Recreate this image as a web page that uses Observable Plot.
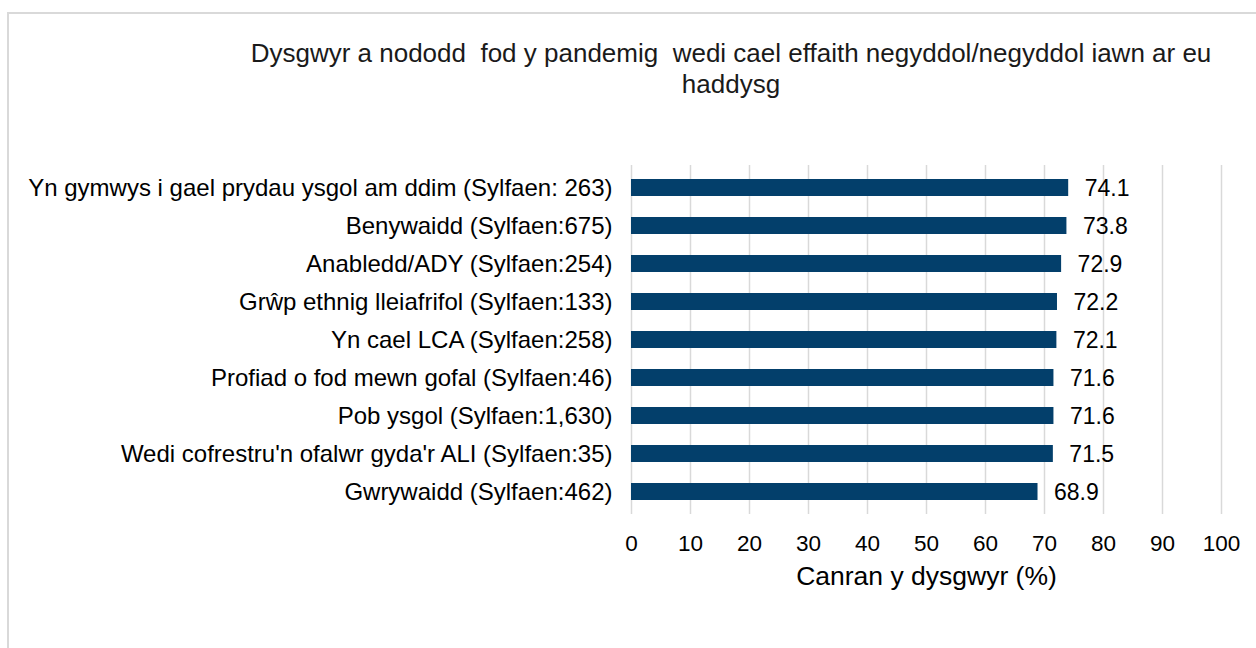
<!DOCTYPE html>
<html>
<head>
<meta charset="utf-8">
<script src="https://cdn.jsdelivr.net/npm/d3@7"></script>
<script src="https://cdn.jsdelivr.net/npm/@observablehq/plot@0.6"></script>
<style>
  html, body { margin: 0; padding: 0; background: #fff; }
  #wrap { position: relative; width: 1256px; height: 648px; overflow: hidden; font-family: "Liberation Sans", Arial, sans-serif; }
  #frame { position: absolute; left: 7px; top: 12px; width: 1300px; height: 700px; border: 2px solid #d9d9d9; box-sizing: border-box; }
  #title { position: absolute; left: 0; top: 38px; width: 1462px; text-align: center; font-size: 26px; line-height: 31px; color: #1a1a1a; white-space: pre; }
  #chart { position: absolute; left: 0; top: 0; }
</style>
</head>
<body>
<div id="wrap">
  <div id="frame"></div>
  <div id="chart"></div>
  <div id="title"></div>
</div>
<script>
const titleLines = ["Dysgwyr a nododd  fod y pandemig  wedi cael effaith negyddol/negyddol iawn ar eu", "haddysg"];
const categories = [
  "Yn gymwys i gael prydau ysgol am ddim (Sylfaen: 263)",
  "Benywaidd (Sylfaen:675)",
  "Anabledd/ADY (Sylfaen:254)",
  "Grŵp ethnig lleiafrifol (Sylfaen:133)",
  "Yn cael LCA (Sylfaen:258)",
  "Profiad o fod mewn gofal (Sylfaen:46)",
  "Pob ysgol (Sylfaen:1,630)",
  "Wedi cofrestru'n ofalwr gyda'r ALI (Sylfaen:35)",
  "Gwrywaidd (Sylfaen:462)"
];
const values = [74.1, 73.8, 72.9, 72.2, 72.1, 71.6, 71.6, 71.5, 68.9];
const xTicks = [0, 10, 20, 30, 40, 50, 60, 70, 80, 90, 100];
const xLabel = "Canran y dysgwyr (%)";

document.getElementById("title").textContent = titleLines.join("\n");

const data = categories.map((c, i) => ({category: c, value: values[i]}));

const chart = Plot.plot({
  width: 1256,
  height: 648,
  marginLeft: 631,
  marginRight: 35,
  marginTop: 165,
  marginBottom: 134,
  style: {fontFamily: "Liberation Sans, Arial, sans-serif", background: "transparent", color: "#000"},
  x: {domain: [0, 100], ticks: xTicks},
  y: {domain: categories, paddingInner: 0.56, paddingOuter: 0.28},
  marks: [
    Plot.gridX(xTicks, {stroke: "#d9d9d9", strokeOpacity: 1, strokeWidth: 1.5}),
    Plot.barX(data, {x: "value", y: "category", fill: "#033f6b"}),
    Plot.text(data, {x: "value", y: "category", text: d => d.value.toFixed(1), textAnchor: "start", dx: 16, dy: 1, fontSize: 23, fill: "#000"}),
    Plot.axisX(xTicks, {tickSize: 0, tickPadding: 21, fontSize: 22.5, label: null, fill: "#000"}),
    Plot.axisY({tickSize: 0, tickPadding: 19, fontSize: 24, label: null, fill: "#000"}),
    Plot.text([xLabel], {frameAnchor: "bottom", dy: 70, fontSize: 26.5, fill: "#000"})
  ]
});
document.getElementById("chart").appendChild(chart);
</script>
</body>
</html>
